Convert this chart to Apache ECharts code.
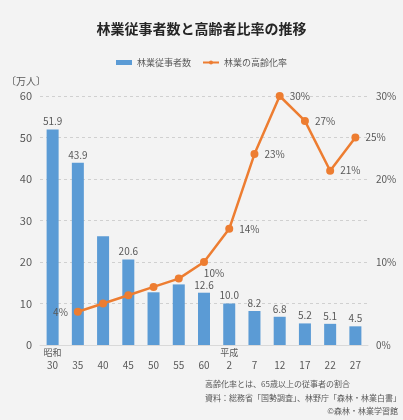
<!DOCTYPE html>
<html><head><meta charset="utf-8">
<script src="https://cdn.jsdelivr.net/npm/echarts@6/dist/echarts.min.js"></script>
<style>html,body{margin:0;padding:0;background:#f3f3f3;}#c{width:403px;height:420px;}</style>
</head><body><div id="c"></div>
<script>
const categories = ['30','35','40','45','50','55','60','2','7','12','17','22','27'];
const eraLabels = ['昭和','','','','','','','平成','','','','',''];
const workers = [51.9,43.9,26.2,20.6,12.7,14.6,12.6,10.0,8.2,6.8,5.2,5.1,4.5];
const workerLabelShown = [true,true,false,true,false,false,true,true,true,true,true,true,true];
const agingRate = [null,4,5,6,7,8,10,14,23,30,27,21,25];
const rateLabelPos = [null,'left',null,null,null,null,'bottomRight','right','right','right','right','right','right'];
const leftTicks = [0,10,20,30,40,50,60];
const rightTicks = [0,10,20,30];

const FONT = '"Noto Sans CJK JP", "Noto Sans", sans-serif';
const GRAY = '#595959';
const chart = echarts.init(document.getElementById('c'), null, {renderer:'canvas'});

const barData = workers.map((v,i)=>({
  value:v,
  label:{show:workerLabelShown[i]}
}));
const lineData = agingRate.map((v,i)=>{
  if (v===null) return {value:null};
  const pos = rateLabelPos[i];
  if (!pos) return {value:v, label:{show:false}};
  if (pos==='bottomRight') return {value:v, label:{show:true, position:'bottom', offset:[10,-3]}};
  return {value:v, label:{show:true, position:pos, distance:6}};
});

chart.setOption({
  backgroundColor:'#f3f3f3',
  textStyle:{fontFamily:FONT},
  title:{
    text:'林業従事者数と高齢者比率の推移',
    left:'center', top:17,
    textStyle:{fontFamily:FONT, fontSize:14, fontWeight:'bold', color:'#262626'}
  },
  legend:{
    top:53, left:'center',
    itemGap:11,
    textStyle:{fontFamily:FONT, fontSize:9, color:GRAY},
    data:[
      {name:'林業従事者数', icon:'rect', itemStyle:{color:'#5B9BD5'}},
      {name:'林業の高齢化率'}
    ],
    itemWidth:16, itemHeight:5
  },
  grid:{left:40, right:35, top:96, bottom:75, containLabel:false},
  xAxis:{
    type:'category',
    data:categories,
    axisLine:{lineStyle:{color:'#d9d9d9'}},
    axisTick:{show:false},
    axisLabel:{
      interval:0, color:GRAY, fontSize:10, fontFamily:FONT, lineHeight:13, margin:1,
      formatter:(v,i)=> (eraLabels[i] ? '{era|'+eraLabels[i]+'}' : '{era| }') + '\n' + v,
      rich:{era:{fontSize:9, color:GRAY, fontFamily:FONT, lineHeight:13}}
    }
  },
  yAxis:[
    {
      type:'value', min:leftTicks[0], max:leftTicks[leftTicks.length-1], interval:10,
      name:'〔万人〕', nameLocation:'end', nameGap:10,
      nameTextStyle:{color:GRAY, fontSize:10, fontFamily:FONT, align:'right', padding:[0,-6,0,0]},
      axisLine:{show:false}, axisTick:{show:false},
      axisLabel:{color:GRAY, fontSize:11, fontFamily:FONT, margin:8},
      splitLine:{lineStyle:{color:'#d0d0d0', type:[3,3]}}
    },
    {
      type:'value', min:rightTicks[0], max:rightTicks[rightTicks.length-1], interval:10,
      axisLine:{show:false}, axisTick:{show:false},
      axisLabel:{color:GRAY, fontSize:10, fontFamily:FONT, margin:8, formatter:'{value}%'},
      splitLine:{show:false}
    }
  ],
  series:[
    {
      name:'林業従事者数', type:'bar', data:barData, barWidth:12,
      itemStyle:{color:'#5B9BD5'},
      label:{show:true, position:'top', distance:3, color:GRAY, fontSize:10, fontFamily:FONT,
        formatter:p=>p.value.toFixed(1)},
      z:2
    },
    {
      name:'林業の高齢化率', type:'line', yAxisIndex:1, data:lineData,
      connectNulls:false,
      symbol:'circle', symbolSize:8,
      lineStyle:{color:'#ED7D31', width:2.5},
      itemStyle:{color:'#ED7D31'},
      label:{show:true, color:GRAY, fontSize:10, fontFamily:FONT, formatter:p=>p.value+'%'},
      z:3
    }
  ],
  graphic:[
    {type:'text', left:205, top:380, style:{text:'高齢化率とは、65歳以上の従事者の割合', fill:GRAY, font:'8px '+FONT}},
    {type:'text', left:205, top:394, style:{text:'資料：総務省「国勢調査」、林野庁「森林・林業白書」', fill:GRAY, font:'8px '+FONT}},
    {type:'text', right:5, top:407, style:{text:'©森林・林業学習館', fill:GRAY, font:'8px '+FONT}}
  ]
});
</script>
</body></html>
